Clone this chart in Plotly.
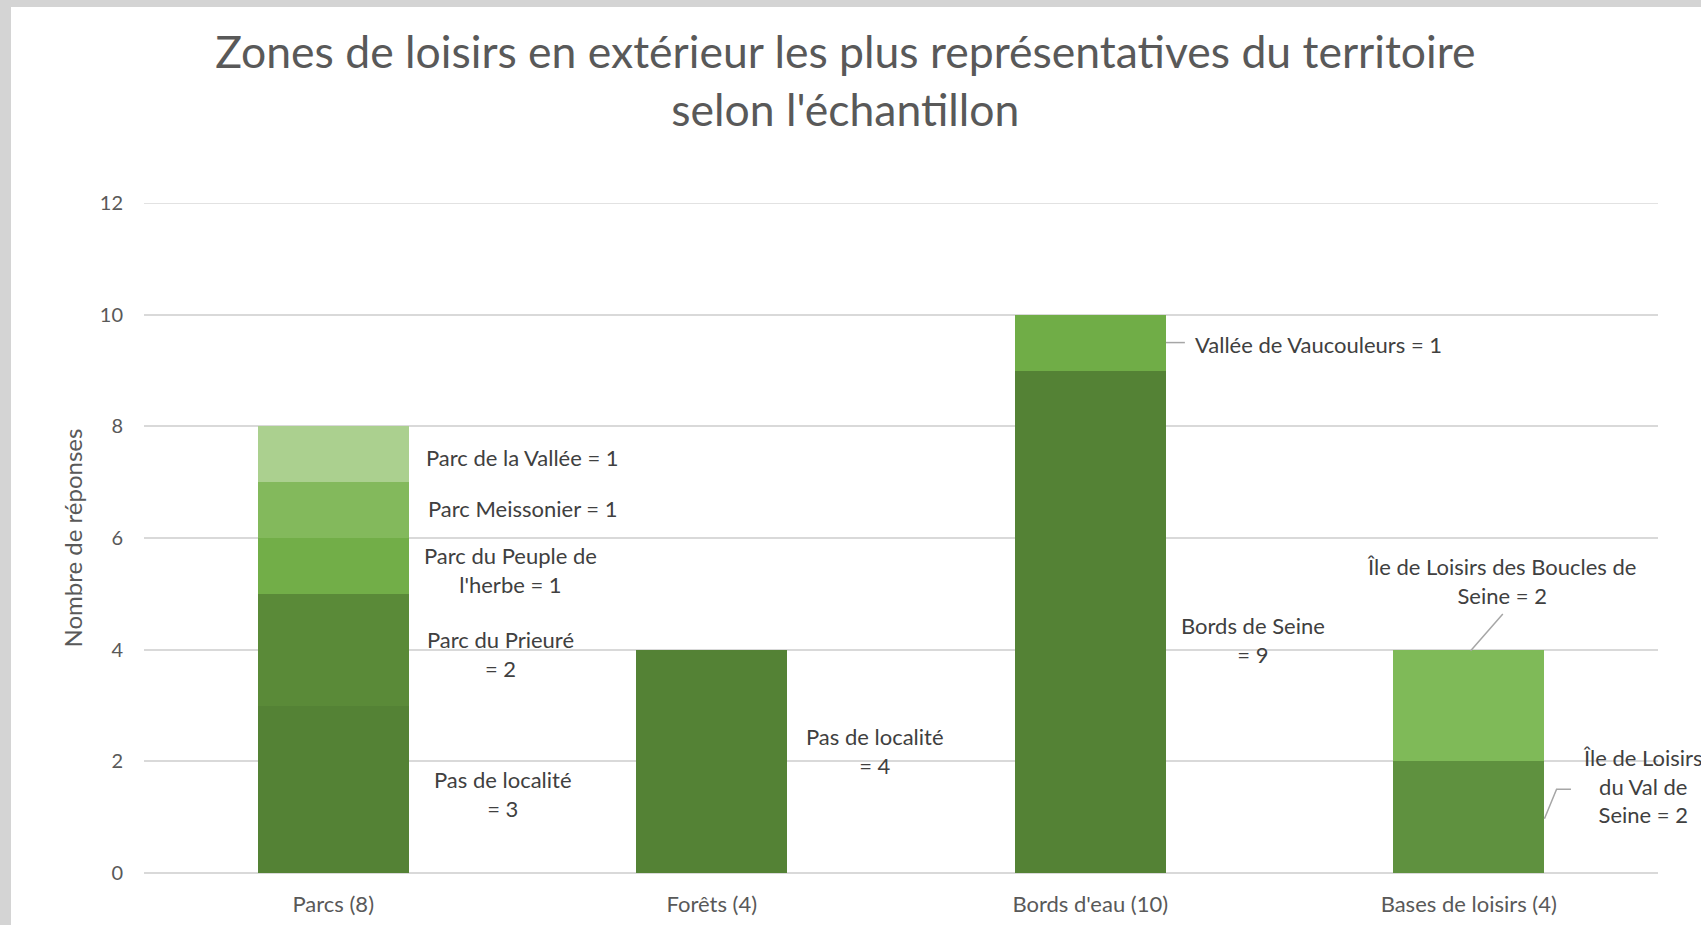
import plotly.graph_objects as go

# ---- data ----
categories = ["Parcs (8)", "Forêts (4)", "Bords d'eau (10)", "Bases de loisirs (4)"]
seg_category = [0, 0, 0, 0, 0, 1, 2, 2, 3, 3]
seg_label = ["Pas de localité", "Parc du Prieuré", "Parc du Peuple de l'herbe",
             "Parc Meissonier", "Parc de la Vallée", "Pas de localité",
             "Bords de Seine", "Vallée de Vaucouleurs",
             "Île de Loisirs du Val de Seine", "Île de Loisirs des Boucles de Seine"]
seg_value = [3, 2, 1, 1, 1, 4, 9, 1, 2, 2]
seg_text = ["Pas de localité<br>= {v}", "Parc du Prieuré<br>= {v}", "Parc du Peuple de<br>l'herbe = {v}",
            "Parc Meissonier = {v}", "Parc de la Vallée = {v}", "Pas de localité<br>= {v}",
            "Bords de Seine<br>= {v}", "Vallée de Vaucouleurs = {v}",
            "Île de Loisirs<br>du Val de<br>Seine = {v}", "Île de Loisirs des Boucles de<br>Seine = {v}"]
seg_color = ["#548235", "#5A8A38", "#72AE48", "#83B95C", "#ABD08F", "#548235",
             "#548235", "#70AD47", "#5F913F", "#7FBA58"]
# label positions (x offset from category centre, y in axis units)
lab_dx = [0.448, 0.443, 0.469, 0.50, 0.50, 0.43, 0.43, 0.604, 0.46, 0.087]
lab_y = [1.42, 3.92, 5.42, 6.52, 7.45, 2.19, 4.18, 9.46, 1.55, 5.23]

title_text = "Zones de loisirs en extérieur les plus représentatives du territoire<br>selon l'échantillon"
y_title = "Nombre de réponses"

FONT = "Lato"
W, H = 1701, 925
L, R, T, B = 144, 43, 203, 52
PW, PH = W - L - R, H - T - B

fig = go.Figure()
for c, lab, v, col in zip(seg_category, seg_label, seg_value, seg_color):
    fig.add_trace(go.Bar(x=[c], y=[v], name=lab, marker=dict(color=col, line=dict(width=0)),
                         width=0.4, showlegend=False, hoverinfo="name+y"))

annotations = []
for c, t, v, dx, y in zip(seg_category, seg_text, seg_value, lab_dx, lab_y):
    annotations.append(dict(x=c + dx, y=y, xref="x", yref="y", text=t.format(v=v),
                            showarrow=False, align="center",
                            font=dict(family=FONT, size=22, color="#404040")))

lead = dict(color="#a6a6a6", width=1.5)
shapes = [
    # white chart area over grey page border
    dict(type="rect", xref="paper", yref="paper", x0=(11 - L) / PW, x1=1 + (R + 30) / PW,
         y0=-(B + 30) / PH, y1=1 + (T - 7) / PH, fillcolor="white", line=dict(width=0), layer="below"),
    # top gridline at 12
    dict(type="line", xref="paper", yref="y", x0=0, x1=1, y0=12, y1=12,
         line=dict(color="#d9d9d9", width=1.5), layer="below"),
    # leader lines
    dict(type="line", xref="x", yref="y", x0=2.2, x1=2.25, y0=9.5, y1=9.5, line=lead),
    dict(type="line", xref="x", yref="y", x0=3.005, x1=3.09, y0=3.98, y1=4.64, line=lead),
    dict(type="path", xref="x", yref="y", path="M 3.2 0.97 L 3.232 1.5 L 3.27 1.5", line=lead),
]

fig.update_layout(
    barmode="stack",
    width=W, height=H,
    paper_bgcolor="#d4d4d4", plot_bgcolor="rgba(0,0,0,0)",
    margin=dict(l=L, r=R, t=T, b=B, autoexpand=False),
    title=dict(text=title_text, x=0.497, xanchor="center", y=1 - 68 / H, yanchor="middle",
               font=dict(family=FONT, size=44.5, color="#595959")),
    xaxis=dict(range=[-0.5, 3.5], tickmode="array", tickvals=list(range(len(categories))),
               ticktext=categories, showgrid=False, zeroline=False, showline=False, automargin=False,
               tickfont=dict(family=FONT, size=22, color="#595959"), ticks="", ticklabelstandoff=16),
    yaxis=dict(range=[0, 12], dtick=2, showgrid=True, gridcolor="#d9d9d9", gridwidth=1.5,
               zeroline=True, zerolinecolor="#d9d9d9", zerolinewidth=1.5, automargin=False,
               tickfont=dict(family=FONT, size=20, color="#595959"), ticklabelstandoff=20,
               title=dict(text=y_title, font=dict(family=FONT, size=24, color="#595959"), standoff=10)),
    annotations=annotations,
    shapes=shapes,
    font=dict(family=FONT),
)

fig.write_html("out.html", config={"displayModeBar": False},
               post_script="document.body.style.margin='0';document.body.style.background='#d4d4d4';")
